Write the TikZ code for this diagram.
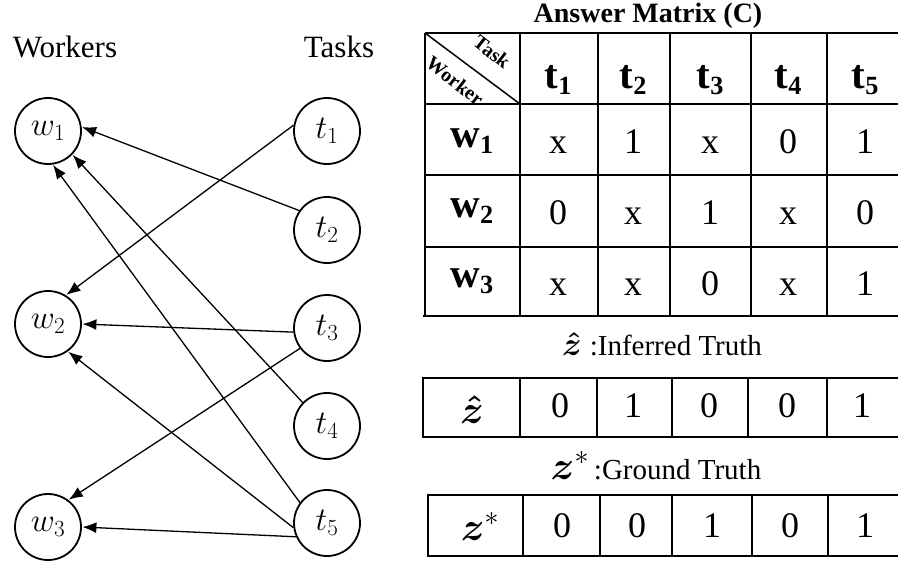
\RequirePackage{fix-cm}
\documentclass[tikz,border=0pt]{standalone}
\usepackage{amsmath}
\usepackage{graphicx}
\usepackage{fontspec}
\setmainfont{Liberation Serif}
\usetikzlibrary{arrows.meta}

% letter with a lowered, smaller index in the current text font
\newcommand{\tsub}[2]{#1\raisebox{-0.33ex}{\scalebox{0.64}{#2}}}

\begin{document}
\begin{tikzpicture}[x=1pt,y=-1pt,
  vert/.style={circle,draw,line width=1.8pt,minimum size=66pt,inner sep=0pt,
    font=\fontsize{33}{35}\selectfont},
  edge/.style={line width=1.3pt,-{Latex[length=14pt,width=11pt]},shorten >=0.5pt},
  heading/.style={anchor=base,inner sep=0pt,font=\fontsize{31}{34}\selectfont},
  title/.style={anchor=base,inner sep=0pt,font=\fontsize{28}{30}\selectfont\bfseries},
  hdr/.style={anchor=base,inner sep=0pt,font=\fontsize{41}{43}\selectfont\bfseries},
  val/.style={anchor=base,inner sep=0pt,font=\fontsize{36}{38}\selectfont},
  diag/.style={inner sep=0pt,rotate=-38,font=\fontsize{20}{21}\selectfont\bfseries},
  thin/.style={line width=1.5pt},
  thick/.style={line width=2.6pt},
  caption/.style={anchor=base,inner sep=0pt,font=\fontsize{29}{31}\selectfont}]
\useasboundingbox (0,0) rectangle (898,562);

% ---------- bipartite worker/task graph ----------
\node[heading] (hw) at (65,57) {Workers};
\node[heading] (ht) at (339,57) {Tasks};

\node[vert] (w1) at (48,131) {$w_1$};
\node[vert] (w2) at (48,324) {$w_2$};
\node[vert] (w3) at (48,527) {$w_3$};
\node[vert] (t1) at (327,131) {$t_1$};
\node[vert] (t2) at (327,230) {$t_2$};
\node[vert] (t3) at (327,328) {$t_3$};
\node[vert] (t4) at (327,426) {$t_4$};
\node[vert] (t5) at (327,523) {$t_5$};

\draw[edge] (t2.145) -- (w1.7);
\draw[edge] (t4.136) -- (w1.-44);
\draw[edge] (t5.143) -- (w1.-82);
\draw[edge] (t1.170) -- (w2.58);
\draw[edge] (t3.187) -- (w2.0);
\draw[edge] (t5.188) -- (w2.-54);
\draw[edge] (t3.217) -- (w3.53);
\draw[edge] (t5.204) -- (w3.0);

% ---------- answer matrix ----------
\node[title] (mt) at (648,23) {Answer Matrix (C)};

\foreach \y in {33,104,175,247} \draw[thin] (425,\y) -- (900,\y);
\draw[thick] (423,316) -- (900,316);
\foreach \x in {425,520,598,670,751,827} \draw[thin] (\x,33) -- (\x,316);
\draw[thin] (425,33) -- (520,104);
\node[diag] (dtask) at (492,52) {Task};
\node[diag] (dworker) at (455,81) {Worker};

\foreach \x/\i in {558/1,633/2,710/3,788/4,865/5}
  \node[hdr] (c\i) at (\x,88) {\tsub{t}{\i}};
\foreach \y/\i in {147/1,217/2,287/3}
  \node[hdr] (r\i) at (472,\y) {\tsub{w}{\i}};

\foreach \x/\v [count=\j] in {558/x,633/1,710/x,788/0,865/1}
  \node[val] (a1\j) at (\x,153) {\v};
\foreach \x/\v [count=\j] in {558/0,633/x,710/1,788/x,865/0}
  \node[val] (a2\j) at (\x,224) {\v};
\foreach \x/\v [count=\j] in {558/x,633/x,710/0,788/x,865/1}
  \node[val] (a3\j) at (\x,295) {\v};

% ---------- inferred truth ----------
\node[caption] (capz) at (662,355)
  {{\fontsize{33}{35}\selectfont$\boldsymbol{\hat{z}}$}\;:Inferred Truth};
\draw[thick] (900,378) -- (423,378) -- (423,437) -- (900,437);
\foreach \x in {520,597,672,748,827} \draw[thin] (\x,378) -- (\x,437);
\node[val,font=\fontsize{40}{42}\selectfont] (zl) at (472,423) {$\boldsymbol{\hat{z}}$};
\foreach \x/\v [count=\j] in {560/0,633/1,709/0,787/0,862/1}
  \node[val] (zh\j) at (\x,417) {\v};

% ---------- ground truth ----------
\node[caption] (capg) at (656,479)
  {{\fontsize{40}{42}\selectfont$\boldsymbol{z}^{*}$}\,:Ground Truth};
\draw[thick] (900,495) -- (428,495) -- (428,556) -- (900,556);
\foreach \x in {523,600,672,752,828} \draw[thin] (\x,495) -- (\x,556);
\node[val,font=\fontsize{40}{42}\selectfont] (gl) at (480,540) {$\boldsymbol{z}^{*}$};
\foreach \x/\v [count=\j] in {562/0,637/0,712/1,790/0,865/1}
  \node[val] (zs\j) at (\x,537) {\v};
\end{tikzpicture}
\end{document}
